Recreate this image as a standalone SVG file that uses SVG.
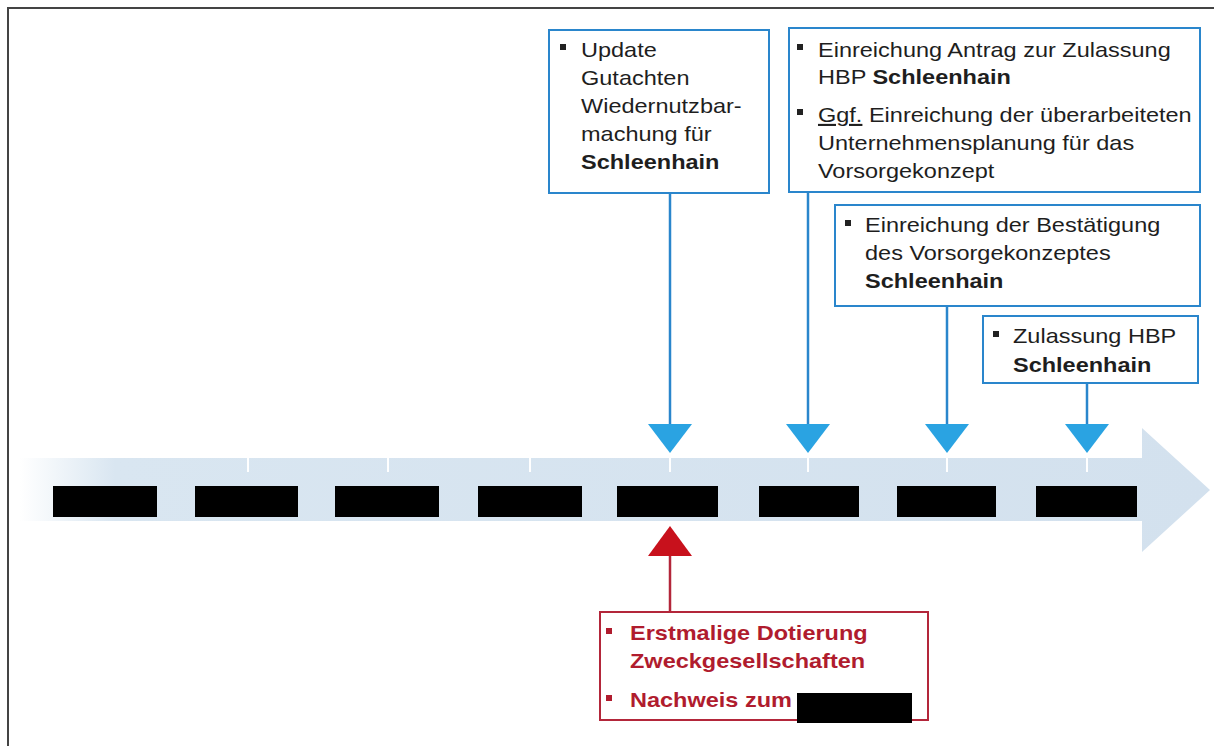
<svg xmlns="http://www.w3.org/2000/svg" width="1214" height="746" viewBox="0 0 1214 746">
<defs>
<style>
.box{fill:#fff;stroke:#2a86cc;stroke-width:2}
.rbox{fill:#fff;stroke:#b3263a;stroke-width:2}
.t{font-family:"Liberation Sans",Arial,sans-serif;font-size:21px;fill:#1e1e1e}
.rt{font-family:"Liberation Sans",Arial,sans-serif;font-size:21px;fill:#b01c2e;font-weight:bold}
.b{font-weight:bold}
.ln{stroke:#2a86cc;stroke-width:2.5;fill:none}
.rln{stroke:#b3263a;stroke-width:2.5;fill:none}
.tri{fill:#2aa3e2}
.rtri{fill:#c8111c}
.red{fill:#000}
.tick{stroke:#fff;stroke-width:2}
</style>
<linearGradient id="band" x1="0" y1="0" x2="1" y2="0">
<stop offset="0" stop-color="#ffffff"/>
<stop offset="0.08" stop-color="#d9e6f1"/>
<stop offset="1" stop-color="#d3e1ee"/>
</linearGradient>
</defs>
<rect width="1214" height="746" fill="#fff"/>
<path d="M8,746 V8 H1214" fill="none" stroke="#444" stroke-width="2"/>

<g id="timeline">
<path d="M20,458 H1142 V428 L1210,490 L1142,552 V521 H20 Z" fill="url(#band)"/>
<g class="tick">
<line x1="248" y1="458" x2="248" y2="472"/>
<line x1="388" y1="458" x2="388" y2="472"/>
<line x1="530" y1="458" x2="530" y2="472"/>
<line x1="670" y1="458" x2="670" y2="472"/>
<line x1="808" y1="458" x2="808" y2="472"/>
<line x1="947" y1="458" x2="947" y2="472"/>
<line x1="1087" y1="458" x2="1087" y2="472"/>
</g>
<rect class="red" x="53" y="486" width="104" height="31"/>
<rect class="red" x="195" y="486" width="103" height="31"/>
<rect class="red" x="335" y="486" width="104" height="31"/>
<rect class="red" x="478" y="486" width="104" height="31"/>
<rect class="red" x="617" y="486" width="101" height="31"/>
<rect class="red" x="759" y="486" width="100" height="31"/>
<rect class="red" x="897" y="486" width="99" height="31"/>
<rect class="red" x="1036" y="486" width="101" height="31"/>
</g>

<g id="connectors">
<line class="ln" x1="670" y1="193" x2="670" y2="428"/>
<polygon class="tri" points="648,424 692,424 670,453"/>
<line class="ln" x1="808" y1="192" x2="808" y2="428"/>
<polygon class="tri" points="786,424 830,424 808,453"/>
<line class="ln" x1="947" y1="306" x2="947" y2="428"/>
<polygon class="tri" points="925,424 969,424 947,453"/>
<line class="ln" x1="1087" y1="383" x2="1087" y2="428"/>
<polygon class="tri" points="1065,424 1109,424 1087,453"/>
<line class="rln" x1="670" y1="552" x2="670" y2="612"/>
<polygon class="rtri" points="648,556 692,556 670,526"/>
</g>

<g id="node-update">
<rect class="box" x="549" y="30" width="220" height="163"/>
<rect x="560" y="44" width="6" height="6" fill="#222"/>
<g transform="matrix(1.12,0,0,1,-69.72,0)">
<text class="t" x="581" y="57">Update</text>
<text class="t" x="581" y="85">Gutachten</text>
<text class="t" x="581" y="113">Wiedernutzbar-</text>
<text class="t" x="581" y="141">machung für</text>
<text class="t b" x="581" y="169">Schleenhain</text>
</g>
</g>

<g id="node-antrag">
<rect class="box" x="789" y="28" width="411" height="164"/>
<rect x="797" y="44" width="6" height="6" fill="#222"/>
<rect x="797" y="109" width="6" height="6" fill="#222"/>
<g transform="matrix(1.12,0,0,1,-98.16,0)">
<text class="t" x="818" y="57">Einreichung Antrag zur Zulassung</text>
<text class="t" x="818" y="84">HBP <tspan class="b">Schleenhain</tspan></text>
<text class="t" x="818" y="122"><tspan text-decoration="underline">Ggf.</tspan> Einreichung der überarbeiteten</text>
<text class="t" x="818" y="150">Unternehmensplanung für das</text>
<text class="t" x="818" y="178">Vorsorgekonzept</text>
</g>
</g>

<g id="node-bestaetigung">
<rect class="box" x="835" y="205" width="365" height="101"/>
<rect x="845" y="220" width="6" height="6" fill="#222"/>
<g transform="matrix(1.12,0,0,1,-103.8,0)">
<text class="t" x="865" y="232">Einreichung der Bestätigung</text>
<text class="t" x="865" y="260">des Vorsorgekonzeptes</text>
<text class="t b" x="865" y="288">Schleenhain</text>
</g>
</g>

<g id="node-zulassung">
<rect class="box" x="983" y="316" width="215" height="67"/>
<rect x="993" y="331" width="6" height="6" fill="#222"/>
<g transform="matrix(1.12,0,0,1,-121.56,0)">
<text class="t" x="1013" y="343">Zulassung HBP</text>
<text class="t b" x="1013" y="372">Schleenhain</text>
</g>
</g>

<g id="node-dotierung">
<rect class="rbox" x="600" y="612" width="328" height="108"/>
<rect x="606" y="628" width="6" height="6" fill="#b01c2e"/>
<rect x="606" y="695" width="6" height="6" fill="#b01c2e"/>
<g transform="matrix(1.12,0,0,1,-75.6,0)">
<text class="rt" x="630" y="640">Erstmalige Dotierung</text>
<text class="rt" x="630" y="668">Zweckgesellschaften</text>
<text class="rt" x="630" y="707">Nachweis zum</text>
</g>
<rect class="red" x="797" y="693" width="115" height="30"/>
</g>
</svg>
